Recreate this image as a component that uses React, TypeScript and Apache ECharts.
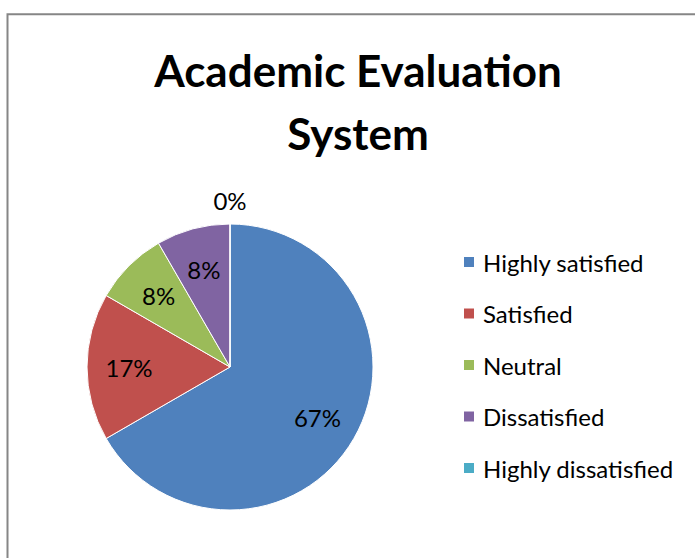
import React, { useEffect, useRef } from "react";
import * as echarts from "echarts";

const titleText = "Academic Evaluation\nSystem";
const categories = [
  "Highly satisfied",
  "Satisfied",
  "Neutral",
  "Dissatisfied",
  "Highly dissatisfied",
];
const values = [8, 2, 1, 1, 0];
const colors = ["#4F81BD", "#C0504D", "#9BBB59", "#8064A2", "#4BACC6"];

const FONT = "Lato, 'Open Sans', 'Noto Sans', sans-serif";

export default function App() {
  const ref = useRef<HTMLDivElement>(null);

  useEffect(() => {
    const chart = echarts.init(ref.current as HTMLDivElement, null, {
      renderer: "svg",
    });
    const center = [230, 367];
    const mainData = categories.map((name, i) => ({
      name,
      value: values[i],
      itemStyle: { color: colors[i] },
    }));
    const transparent = "rgba(0,0,0,0)";
    const innerLabelData = categories.map((name, i) => ({
      name,
      value: values[i],
      label: { show: values[i] > 0 },
    }));
    const outerLabelData = categories.map((name, i) => ({
      name,
      value: values[i],
      label: { show: values[i] === 0 },
    }));
    const labelStyle = {
      position: "inside",
      formatter: "{d}%",
      fontFamily: FONT,
      fontSize: 24,
      color: "#000",
    };

    chart.setOption({
      animation: false,
      backgroundColor: "#ffffff",
      graphic: [
        {
          type: "rect",
          z: -10,
          silent: true,
          shape: { x: 7.5, y: 14.3, width: 900, height: 900 },
          style: { fill: "none", stroke: "#868686", lineWidth: 2 },
        },
      ],
      title: {
        text: titleText,
        left: 353,
        top: 33,
        textAlign: "center",
        textStyle: {
          fontFamily: FONT,
          fontWeight: "bold",
          fontSize: 44,
          lineHeight: 63,
          color: "#000",
        },
      },
      legend: {
        orient: "vertical",
        left: 462,
        top: 249,
        padding: 0,
        icon: "rect",
        itemWidth: 12,
        itemHeight: 12,
        itemGap: 25.5,
        data: categories,
        textStyle: {
          fontFamily: FONT,
          fontSize: 24,
          lineHeight: 26,
          color: "#000",
          padding: [0, 0, 0, 3],
        },
      },
      series: [
        {
          type: "pie",
          center,
          radius: [0, 143],
          startAngle: 90,
          clockwise: true,
          silent: true,
          percentPrecision: 0,
          label: { show: false },
          labelLine: { show: false },
          itemStyle: { borderColor: "#ffffff", borderWidth: 1 },
          emphasis: { disabled: true },
          data: mainData,
        },
        {
          type: "pie",
          center,
          radius: [0, 196],
          startAngle: 90,
          clockwise: true,
          silent: true,
          percentPrecision: 0,
          label: labelStyle,
          labelLine: { show: false },
          itemStyle: { color: transparent, borderWidth: 0 },
          emphasis: { disabled: true },
          data: innerLabelData,
        },
        {
          type: "pie",
          center,
          radius: [0, 328],
          startAngle: 90,
          clockwise: true,
          silent: true,
          percentPrecision: 0,
          label: labelStyle,
          labelLine: { show: false },
          itemStyle: { color: transparent, borderWidth: 0 },
          emphasis: { disabled: true },
          data: outerLabelData,
        },
      ],
    });
    return () => chart.dispose();
  }, []);

  return (
    <div
      ref={ref}
      style={{ position: "absolute", left: 0, top: 0, width: 695, height: 558 }}
    />
  );
}
